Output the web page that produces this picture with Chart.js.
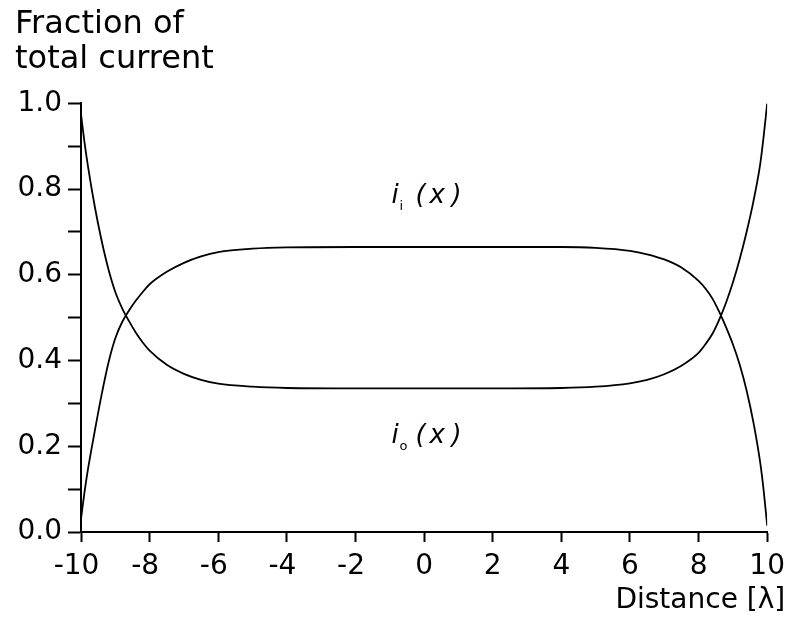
<!DOCTYPE html>
<html>
<head>
<meta charset="utf-8">
<script src="https://cdn.jsdelivr.net/npm/chart.js@4/dist/chart.umd.min.js"></script>
<style>
html,body{margin:0;padding:0;background:#fff;}
#wrap{width:793px;height:623px;}
</style>
</head>
<body>
<div id="wrap"><canvas id="c" width="793" height="623"></canvas></div>
<script>
// distance values (in λ) at which the curves were read
const distance = [-10, -9.9, -9.8, -9.6, -9.4, -9.2, -9.0, -8.8, -8.6, -8.4, -8.2, -8.0, -7.5, -7.0, -6.5, -6.0, -5.0, -4.0, -2.0, 0.0, 2.0, 4.0, 5.0, 6.0, 6.5, 7.0, 7.5, 8.0, 8.2, 8.4, 8.6, 8.8, 9.0, 9.2, 9.4, 9.6, 9.8, 9.9, 10];
// outer current fraction i_o(x)
const outerCurrent = [0.975, 0.91, 0.855, 0.76, 0.68, 0.613, 0.56, 0.522, 0.492, 0.465, 0.442, 0.423, 0.39, 0.369, 0.355, 0.346, 0.339, 0.336, 0.335, 0.335, 0.335, 0.336, 0.339, 0.347, 0.355, 0.368, 0.388, 0.418, 0.438, 0.462, 0.495, 0.535, 0.582, 0.637, 0.7, 0.772, 0.86, 0.925, 1.0];
// inner current fraction i_i(x)
const innerCurrent = [0.03, 0.092, 0.145, 0.235, 0.32, 0.395, 0.452, 0.49, 0.517, 0.54, 0.56, 0.578, 0.607, 0.628, 0.643, 0.653, 0.661, 0.664, 0.665, 0.665, 0.665, 0.665, 0.663, 0.656, 0.648, 0.636, 0.617, 0.586, 0.568, 0.545, 0.514, 0.478, 0.438, 0.39, 0.33, 0.255, 0.16, 0.095, 0.015];
// tick labels
const xTicks = [-10, -8, -6, -4, -2, 0, 2, 4, 6, 8, 10];
const yTickLabels = ['0.0', '0.2', '0.4', '0.6', '0.8', '1.0'];
// text
const yTitle = ['Fraction of', 'total current'];
const xTitle = 'Distance [λ]';
const curveLabels = [
  {main: 'i', sub: 'i', x: -0.95, y: 0.767},
  {main: 'i', sub: 'o', x: -0.95, y: 0.207}
];

const toPts = (ys) => distance.map((x, i) => ({x: x, y: ys[i]}));

const labelPlugin = {
  id: 'labelPlugin',
  afterDraw(chart) {
    const ctx = chart.ctx;
    const xs = chart.scales.x, ys = chart.scales.y;
    ctx.save();
    ctx.fillStyle = '#000';
    ctx.textBaseline = 'alphabetic';
    // x axis title, right aligned beyond the chart area edge
    ctx.font = '28px "DejaVu Sans"';
    ctx.textAlign = 'right';
    ctx.fillText(xTitle, xs.right + 18, chart.height - 15);
    // curve labels
    ctx.textAlign = 'left';
    curveLabels.forEach(l => {
      const px = xs.getPixelForValue(l.x);
      const py = ys.getPixelForValue(l.y);
      ctx.font = 'italic 26px "DejaVu Sans"';
      ctx.fillText(l.main, px, py);
      ctx.font = '13px "DejaVu Sans"';
      ctx.fillText(l.sub, px + 8, py + 7);
      ctx.font = 'italic 26px "DejaVu Sans"';
      ctx.fillText('(', px + 24, py);
      ctx.fillText('x', px + 38, py);
      ctx.fillText(')', px + 60, py);
    });
    ctx.restore();
  }
};

new Chart(document.getElementById('c'), {
  type: 'line',
  data: {
    datasets: [
      {label: 'i_i(x)', data: toPts(innerCurrent), borderColor: '#000', borderWidth: 1.8, pointRadius: 0, fill: false, cubicInterpolationMode: 'monotone'},
      {label: 'i_o(x)', data: toPts(outerCurrent), borderColor: '#000', borderWidth: 1.8, pointRadius: 0, fill: false, cubicInterpolationMode: 'monotone'}
    ]
  },
  options: {
    responsive: false,
    animation: false,
    devicePixelRatio: 1,
    layout: {padding: {left: 15, right: 23, top: 0, bottom: 0}},
    plugins: {
      legend: {display: false},
      tooltip: {enabled: false},
      title: {
        display: true,
        text: yTitle,
        align: 'start',
        color: '#000',
        font: {family: 'DejaVu Sans', size: 32, weight: 'normal', lineHeight: 1.1},
        padding: {top: 7, bottom: 26}
      }
    },
    scales: {
      x: {
        type: 'linear',
        min: -10, max: 10,
        afterFit(s) { s.height = 91; },
        afterBuildTicks(s) { s.ticks = xTicks.map(v => ({value: v})); },
        ticks: {
          color: '#000',
          font: {family: 'DejaVu Sans', size: 28},
          padding: 8,
          maxRotation: 0,
          autoSkip: false,
          callback: (v) => (v < 0 ? String(v) + ' ' : String(v))
        },
        grid: {display: true, drawOnChartArea: false, drawTicks: true, tickLength: 10, tickColor: '#000', tickWidth: 2},
        border: {display: true, color: '#000', width: 2}
      },
      y: {
        type: 'linear',
        min: 0, max: 1,
        afterFit(s) { s.width = 66; },
        afterBuildTicks(s) {
          const t = [];
          for (let k = 0; k <= 10; k++) t.push({value: k / 10});
          s.ticks = t;
        },
        ticks: {
          color: '#000',
          font: {family: 'DejaVu Sans', size: 28},
          padding: 6,
          autoSkip: false,
          callback: (v) => {
            const k = Math.round(v * 10);
            return k % 2 === 0 ? yTickLabels[k / 2] : '';
          }
        },
        grid: {display: true, drawOnChartArea: false, drawTicks: true, tickLength: 13, tickColor: '#000', tickWidth: 2},
        border: {display: true, color: '#000', width: 2}
      }
    }
  },
  plugins: [labelPlugin]
});
</script>
</body>
</html>
